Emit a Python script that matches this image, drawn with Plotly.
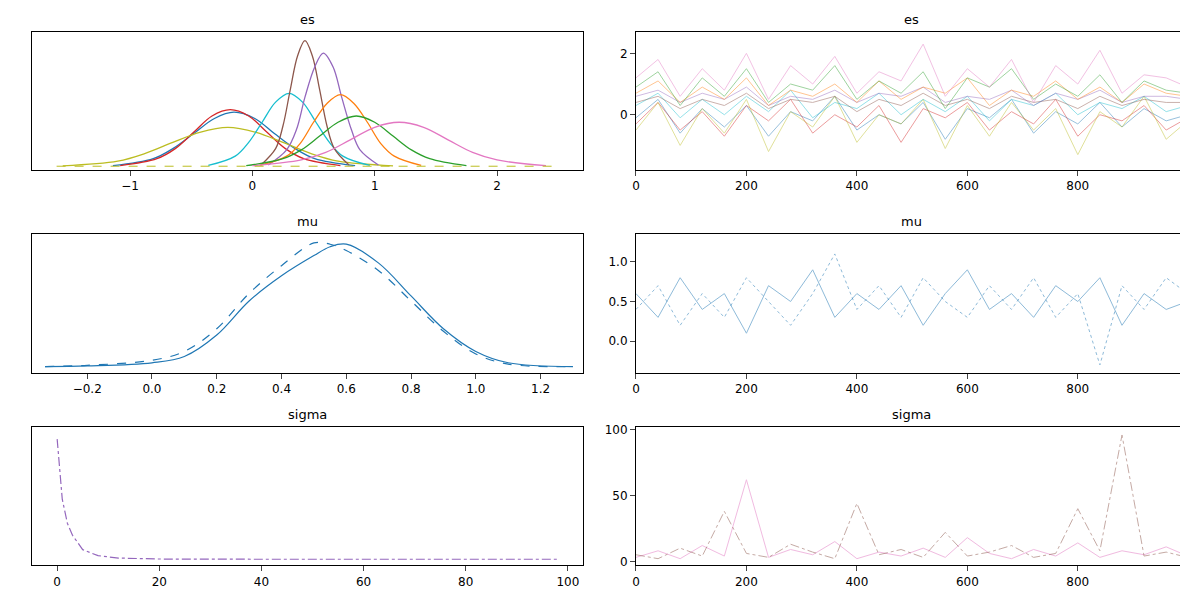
import plotly.graph_objects as go
from plotly.subplots import make_subplots

C = ["#1f77b4", "#d62728", "#bcbd22", "#17becf", "#8c564b", "#9467bd", "#ff7f0e", "#2ca02c", "#e377c2"]

# es: posterior density per school (relative height)
es_kde_x = [
    [-1.14, -0.81, -0.65, -0.48, -0.31, -0.15, 0.02, 0.18, 0.35, 0.51, 0.84],
    [-1.08, -0.78, -0.63, -0.48, -0.33, -0.18, -0.03, 0.12, 0.27, 0.42, 0.72],
    [-1.55, -1.1, -0.88, -0.65, -0.43, -0.2, 0.03, 0.25, 0.48, 0.7, 1.15],
    [-0.36, -0.14, -0.03, 0.08, 0.19, 0.3, 0.41, 0.52, 0.63, 0.74, 0.96],
    [0.07, 0.19, 0.25, 0.31, 0.37, 0.43, 0.49, 0.55, 0.61, 0.67, 0.79],
    [0.13, 0.28, 0.36, 0.43, 0.51, 0.58, 0.66, 0.73, 0.81, 0.88, 1.03],
    [0.06, 0.28, 0.39, 0.5, 0.61, 0.72, 0.83, 0.94, 1.05, 1.16, 1.38],
    [-0.05, 0.25, 0.4, 0.55, 0.7, 0.85, 1.0, 1.15, 1.3, 1.45, 1.75],
    [0.0, 0.4, 0.6, 0.8, 1.0, 1.2, 1.4, 1.6, 1.8, 2.0, 2.4],
]
es_kde_y = [
    [.004, .06, .14, .26, .38, .43, .38, .26, .14, .06, .004],
    [.005, .06, .14, .27, .40, .45, .40, .27, .14, .06, .005],
    [.003, .04, .10, .19, .27, .31, .27, .19, .10, .04, .003],
    [.006, .08, .19, .35, .51, .58, .51, .35, .19, .08, .006],
    [.01, .14, .32, .61, .88, 1.0, .88, .61, .32, .14, .01],
    [.01, .13, .29, .55, .79, .90, .79, .55, .29, .13, .01],
    [.006, .08, .18, .35, .50, .57, .50, .35, .18, .08, .006],
    [.004, .06, .13, .24, .35, .40, .35, .24, .13, .06, .004],
    [.004, .05, .11, .21, .31, .35, .31, .21, .11, .05, .004],
]

draws = [0, 40, 80, 120, 160, 200, 240, 280, 320, 360, 400, 440, 480,
         520, 560, 600, 640, 680, 720, 760, 800, 840, 880, 920, 960, 999]

es_trace = [
    [-0.1, 0.5, -0.6, 0.2, -0.4, 0.3, -0.7, 0.1, -0.2, 0.6, -0.5, 0.0, -0.3, 0.4, -0.8, 0.2, -0.1, 0.5, -0.6, 0.1, -0.3, 0.4, -0.4, 0.2, -0.2, 0.0],
    [-0.3, 0.4, -0.5, 0.1, -0.7, 0.3, -0.2, 0.5, -0.6, 0.0, -0.4, 0.3, -0.9, 0.2, -0.1, 0.4, -0.5, 0.1, -0.3, 0.5, -0.7, 0.0, -0.2, 0.3, -0.5, -0.1],
    [-0.5, 0.4, -1.0, 0.2, -0.6, 0.5, -1.2, 0.1, -0.4, 0.6, -0.9, 0.0, -0.3, 0.5, -1.1, 0.3, -0.7, 0.4, -0.5, 0.2, -1.3, 0.1, -0.4, 0.6, -0.8, -0.2],
    [0.3, 0.7, -0.1, 0.5, 0.0, 0.6, 0.1, 0.8, -0.1, 0.4, 0.2, 0.7, 0.0, 0.5, 0.1, 0.6, -0.2, 0.5, 0.3, 0.7, 0.0, 0.4, 0.2, 0.6, 0.1, 0.3],
    [0.4, 0.6, 0.2, 0.5, 0.3, 0.7, 0.2, 0.5, 0.4, 0.6, 0.1, 0.5, 0.3, 0.7, 0.3, 0.5, 0.2, 0.6, 0.4, 0.5, 0.2, 0.6, 0.3, 0.5, 0.4, 0.4],
    [0.6, 0.8, 0.4, 0.7, 0.5, 0.9, 0.3, 0.6, 0.5, 0.8, 0.4, 0.7, 0.6, 0.9, 0.4, 0.6, 0.5, 0.8, 0.3, 0.7, 0.5, 0.8, 0.4, 0.6, 0.6, 0.5],
    [0.7, 1.1, 0.4, 0.9, 0.5, 1.2, 0.3, 0.8, 0.6, 1.0, 0.4, 1.1, 0.5, 0.9, 0.7, 1.2, 0.3, 0.8, 0.6, 1.1, 0.5, 0.9, 0.4, 1.0, 0.7, 0.6],
    [0.9, 1.4, 0.3, 1.2, 0.6, 1.5, 0.4, 1.0, 0.8, 1.6, 0.5, 1.1, 0.7, 1.4, 0.2, 1.2, 0.9, 1.5, 0.5, 1.0, 0.6, 1.3, 0.4, 1.1, 0.8, 0.7],
    [1.2, 1.8, 0.6, 1.5, 0.8, 2.0, 0.5, 1.6, 1.0, 1.9, 0.7, 1.4, 1.1, 2.3, 0.6, 1.5, 0.9, 1.8, 0.4, 1.6, 1.0, 2.1, 0.7, 1.3, 1.2, 0.9],
]

mu_kde_x = [-0.33, -0.2, 0.0, 0.1, 0.2, 0.3, 0.4, 0.5, 0.55, 0.6, 0.7, 0.8, 0.9, 1.0, 1.1, 1.3]
mu_kde_y1 = [0.0, .005, .03, .08, .25, .52, .72, .88, .95, .97, .82, .56, .30, .12, .03, 0.0]
mu_kde_y2 = [0.0, .01, .05, .12, .30, .58, .80, .98, .97, .92, .76, .52, .28, .10, .02, 0.0]
mu_trace1 = [0.6, 0.3, 0.8, 0.4, 0.6, 0.1, 0.7, 0.5, 0.9, 0.3, 0.6, 0.4, 0.7, 0.2, 0.6, 0.9, 0.4, 0.6, 0.3, 0.7, 0.5, 0.8, 0.2, 0.6, 0.4, 0.5]
mu_trace2 = [0.4, 0.7, 0.2, 0.6, 0.3, 0.8, 0.5, 0.2, 0.6, 1.1, 0.4, 0.7, 0.3, 0.8, 0.5, 0.3, 0.7, 0.4, 0.8, 0.3, 0.6, -0.3, 0.7, 0.4, 0.8, 0.6]

sigma_kde_x = [0, 0.3, 1, 2, 3, 5, 8, 12, 20, 40, 60, 98]
sigma_kde_y = [1.0, 0.85, 0.5, 0.3, 0.2, 0.08, 0.03, 0.01, 0.002, 0.0, 0.0, 0.0]
sigma_trace1 = [3, 8, 2, 12, 4, 62, 3, 9, 5, 15, 2, 7, 4, 10, 3, 18, 6, 2, 9, 4, 14, 3, 8, 5, 11, 4]
sigma_trace2 = [5, 2, 10, 4, 38, 6, 3, 13, 7, 2, 44, 5, 9, 3, 22, 4, 7, 12, 3, 6, 40, 8, 96, 4, 7, 3]

fig = make_subplots(rows=3, cols=2)

for i in range(len(es_kde_x)):
    fig.add_trace(go.Scatter(x=es_kde_x[i], y=es_kde_y[i], mode="lines", line=dict(color=C[i], width=1.3, shape="spline")), 1, 1)
    fig.add_trace(go.Scatter(x=draws, y=es_trace[i], mode="lines", opacity=0.45, line=dict(color=C[i], width=1)), 1, 2)
fig.add_trace(go.Scatter(x=[-1.6, 2.5], y=[0, 0], mode="lines", line=dict(color=C[2], width=1, dash="dash")), 1, 1)

fig.add_trace(go.Scatter(x=mu_kde_x, y=mu_kde_y1, mode="lines", line=dict(color=C[0], width=1.2, shape="spline")), 2, 1)
fig.add_trace(go.Scatter(x=mu_kde_x, y=mu_kde_y2, mode="lines", line=dict(color=C[0], width=1.2, dash="dash", shape="spline")), 2, 1)
fig.add_trace(go.Scatter(x=draws, y=mu_trace1, mode="lines", opacity=0.5, line=dict(color=C[0], width=1)), 2, 2)
fig.add_trace(go.Scatter(x=draws, y=mu_trace2, mode="lines", opacity=0.5, line=dict(color=C[0], width=1, dash="dot")), 2, 2)

fig.add_trace(go.Scatter(x=sigma_kde_x, y=sigma_kde_y, mode="lines", line=dict(color=C[5], width=1.2, dash="dashdot")), 3, 1)
fig.add_trace(go.Scatter(x=draws, y=sigma_trace1, mode="lines", opacity=0.5, line=dict(color=C[8], width=1)), 3, 2)
fig.add_trace(go.Scatter(x=draws, y=sigma_trace2, mode="lines", opacity=0.5, line=dict(color=C[4], width=1, dash="dashdot")), 3, 2)

xd = [[0.017, 0.482], [0.527, 0.993]]
yd = [[0.729, 0.966], [0.381, 0.619], [0.051, 0.288]]
ax = dict(showline=True, mirror=True, linecolor="black", ticks="outside", showgrid=False, zeroline=False,
          tickfont=dict(size=12, color="black"))
x_ranges = [[-1.8, 2.7], [0, 999], [-0.37, 1.33], [0, 999], [-4.9, 102.9], [0, 999]]
y_ranges = [[-0.03, 1.07], [-1.8, 2.7], [-0.05, 1.05], [-0.4, 1.35], [-0.05, 1.1], [-3, 102]]
titles = ["es", "es", "mu", "mu", "sigma", "sigma"]
ann = []
for k in range(6):
    r, c = divmod(k, 2)
    s = "" if k == 0 else str(k + 1)
    fig.layout["xaxis" + s].update(domain=xd[c], range=x_ranges[k], **ax)
    fig.layout["yaxis" + s].update(domain=yd[r], range=y_ranges[k], **ax)
    if c == 0:
        fig.layout["yaxis" + s].update(showticklabels=False, ticks="")
    else:
        fig.layout["xaxis" + s].update(tickvals=[0, 200, 400, 600, 800])
    ann.append(dict(text=titles[k], x=sum(xd[c]) / 2, y=yd[r][1], xref="paper", yref="paper",
                    xanchor="center", yanchor="bottom", showarrow=False, yshift=3, font=dict(size=13, color="black")))
fig.layout.xaxis.tickvals = [-1, 0, 1, 2]
fig.layout.xaxis3.tickvals = [-0.4, -0.2, 0.0, 0.2, 0.4, 0.6, 0.8, 1.0, 1.2]
fig.layout.xaxis3.tickformat = ".1f"
fig.layout.yaxis4.tickvals = [0.0, 0.5, 1.0]
fig.layout.yaxis4.tickformat = ".1f"
fig.layout.yaxis2.tickvals = [0, 2]
fig.layout.yaxis6.tickvals = [0, 50, 100]

fig.update_layout(width=1188, height=590, margin=dict(l=0, r=0, t=0, b=0), showlegend=False,
                  plot_bgcolor="white", paper_bgcolor="white", annotations=ann,
                  font=dict(family="DejaVu Sans"))
fig.write_html("out.html")
